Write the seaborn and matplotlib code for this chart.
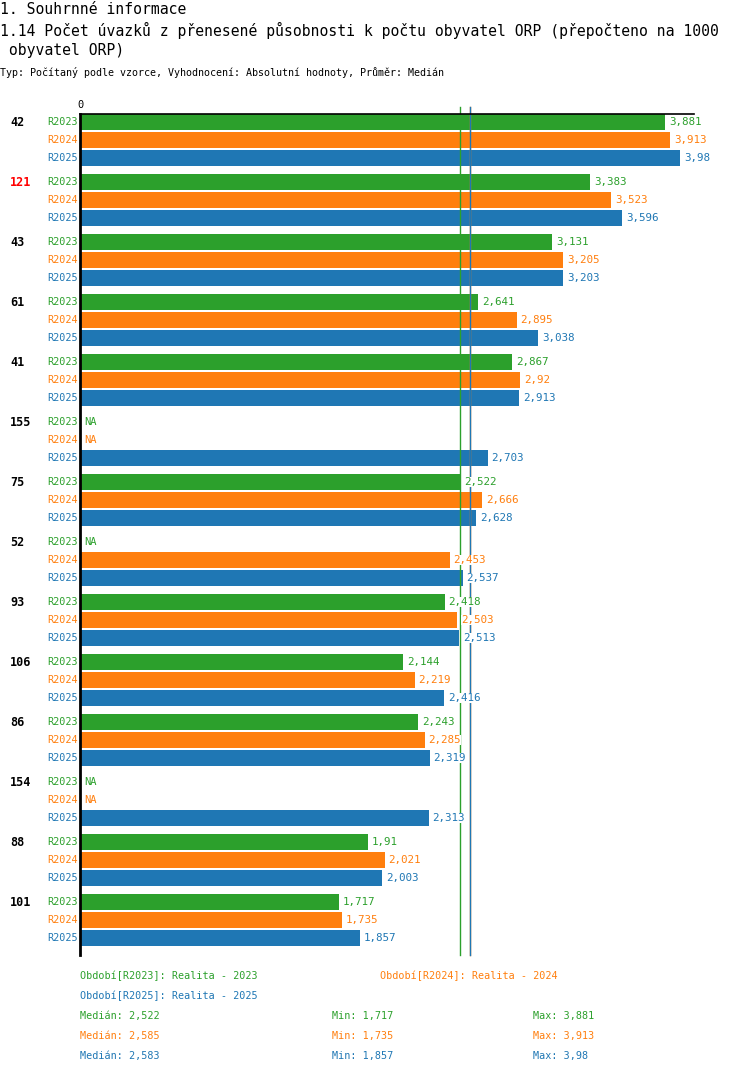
import numpy as np
import pandas as pd
import matplotlib
matplotlib.use("Agg")
import matplotlib.pyplot as plt
import seaborn as sns

# ==============================
# DATA
# ==============================
groups = ["42", "121", "43", "61", "41", "155", "75", "52", "93", "106", "86", "154", "88", "101"]
periods = ["R2023", "R2024", "R2025"]
r2023 = [3.881, 3.383, 3.131, 2.641, 2.867, np.nan, 2.522, np.nan, 2.418, 2.144, 2.243, np.nan, 1.91, 1.717]
r2024 = [3.913, 3.523, 3.205, 2.895, 2.92, np.nan, 2.666, 2.453, 2.503, 2.219, 2.285, np.nan, 2.021, 1.735]
r2025 = [3.98, 3.596, 3.203, 3.038, 2.913, 2.703, 2.628, 2.537, 2.513, 2.416, 2.319, 2.313, 2.003, 1.857]
highlight = "121"

medians = [2.522, 2.585, 2.583]
mins = [1.717, 1.735, 1.857]
maxs = [3.881, 3.913, 3.98]
legend_texts = ["Období[R2023]: Realita - 2023", "Období[R2024]: Realita - 2024",
                "Období[R2025]: Realita - 2025"]

colors = {"R2023": "#2ca02c", "R2024": "#ff7f0e", "R2025": "#1f77b4"}
FONT = "DejaVu Sans Mono"

# ==============================
# TABLE
# ==============================
rows = []
group_step = 60 / 18  # group pitch in row units
for gi, g in enumerate(groups):
    for k, (p, vals) in enumerate(zip(periods, [r2023, r2024, r2025])):
        rows.append({"group": g, "period": p, "value": vals[gi],
                     "pos": gi * group_step + k})
df = pd.DataFrame(rows)

# ==============================
# FIGURE
# ==============================
W, H = 750, 1074
fig = plt.figure(figsize=(W / 100, H / 100), dpi=100)

def fx(px):
    return px / W

def fy(py):
    return 1 - py / H

ax = fig.add_axes([fx(80), fy(955), fx(694) - fx(80), fy(114) - fy(955)])
scale = 150.8  # pixels per unit
xmax = (694 - 80) / scale

sns.barplot(data=df.dropna(subset=["value"]), x="value", y="pos", hue="period",
            orient="h", native_scale=True, dodge=False, width=16 / 18,
            palette=colors, legend=False, ax=ax, linewidth=0, saturation=1)

last = df["pos"].max()
ax.set_ylim(last + 17 / 18, -8 / 18)
ax.set_xlim(0, xmax)

for s in ["right", "bottom"]:
    ax.spines[s].set_visible(False)
ax.spines["left"].set_linewidth(2)
ax.spines["top"].set_linewidth(1.2)
ax.spines["left"].set_color("black")
ax.spines["top"].set_color("black")
ax.set_yticks([])
ax.set_xticks([0])
ax.set_xticklabels(["0"], fontsize=7.5, family=FONT)
ax.xaxis.tick_top()
ax.tick_params(axis="x", length=0, pad=3)
ax.set_xlabel("")
ax.set_ylabel("")

# median lines
for p, m in zip(periods, medians):
    ax.axvline(m, ymin=0, ymax=1.008, color=colors[p], lw=1, clip_on=False, zorder=1)

# value labels and row labels
for _, r in df.iterrows():
    c = colors[r["period"]]
    if np.isnan(r["value"]):
        ax.text(0.025, r["pos"], "NA", color=c, fontsize=7.5, family=FONT,
                va="center", ha="left")
    else:
        txt = f"{r['value']:g}".replace(".", ",")
        ax.text(r["value"] + 0.025, r["pos"], txt, color=c, fontsize=7.8,
                family=FONT, va="center", ha="left", zorder=5,
                bbox=dict(facecolor="white", edgecolor="none", pad=0.3))
    ax.text(-0.012, r["pos"], r["period"], color=c, fontsize=7.3, family=FONT,
            va="center", ha="right")

for gi, g in enumerate(groups):
    ax.text((10 - 80) / scale, gi * group_step, g,
            color="red" if g == highlight else "black",
            fontsize=8.5, family=FONT, fontweight="bold", va="center", ha="left")

# ==============================
# TITLES
# ==============================
fig.text(fx(0), fy(9), "1. Souhrnné informace", fontsize=10.6, family=FONT, va="center")
fig.text(fx(0), fy(30), "1.14 Počet úvazků z přenesené působnosti k počtu obyvatel ORP (přepočteno na 1000",
         fontsize=10.6, family=FONT, va="center")
fig.text(fx(0), fy(51), " obyvatel ORP)", fontsize=10.6, family=FONT, va="center")
fig.text(fx(0), fy(73), "Typ: Počítaný podle vzorce, Vyhodnocení: Absolutní hodnoty, Průměr: Medián",
         fontsize=7.2, family=FONT, va="center")

# ==============================
# FOOTER
# ==============================
fs = 7.3
fig.text(fx(80), fy(976), legend_texts[0], color=colors["R2023"], fontsize=fs, family=FONT, va="center")
fig.text(fx(380), fy(976), legend_texts[1], color=colors["R2024"], fontsize=fs, family=FONT, va="center")
fig.text(fx(80), fy(996), legend_texts[2], color=colors["R2025"], fontsize=fs, family=FONT, va="center")

def fmt(v):
    return f"{v:g}".replace(".", ",")

for i, p in enumerate(periods):
    y = fy(1016 + 20 * i)
    fig.text(fx(80), y, f"Medián: {fmt(medians[i])}", color=colors[p], fontsize=fs, family=FONT, va="center")
    fig.text(fx(332), y, f"Min: {fmt(mins[i])}", color=colors[p], fontsize=fs, family=FONT, va="center")
    fig.text(fx(533), y, f"Max: {fmt(maxs[i])}", color=colors[p], fontsize=fs, family=FONT, va="center")

fig.savefig("out.png", dpi=100)
